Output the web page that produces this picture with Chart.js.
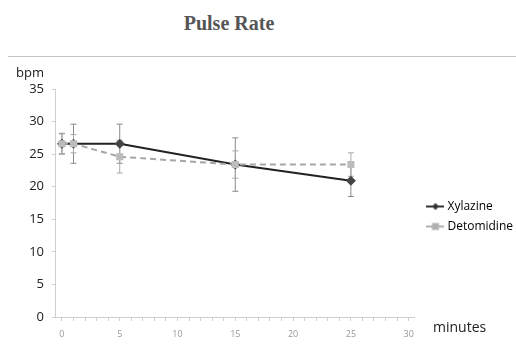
<!DOCTYPE html>
<html>
<head>
<meta charset="utf-8">
<script src="https://cdn.jsdelivr.net/npm/chart.js@4.4.1/dist/chart.umd.min.js"></script>
<style>
  html, body { margin: 0; padding: 0; background: #fff; }
  #wrap { position: relative; width: 516px; height: 344px; overflow: hidden; }
  #title {
    position: absolute; left: 0; top: 12px; width: 458px; text-align: center;
    font-family: "Liberation Serif", "DejaVu Serif", serif; font-weight: bold;
    font-size: 20px; color: #555;
  }
  #rule { position: absolute; left: 8px; top: 56px; width: 508px; height: 0; border-top: 1.5px solid #c4c4c4; }
  canvas { position: absolute; left: 0; top: 0; }
</style>
</head>
<body>
<div id="wrap">
  <div id="title">Pulse Rate</div>
  <div id="rule"></div>
  <canvas id="pulseChart" width="516" height="344"></canvas>
</div>
<script>
// time points (minutes)
var minutes = [0, 1, 5, 15, 25];

var xylazine = [26.6, 26.6, 26.6, 23.4, 20.9];
var xylazineErr = [1.6, 3.0, 3.0, 4.1, 2.4];

var detomidine = [26.6, 26.6, 24.6, 23.4, 23.4];
var detomidineErr = [1.5, 1.4, 2.5, 2.1, 1.8];

var yTicks = [0, 5, 10, 15, 20, 25, 30, 35];
var xTickLabels = [0, 5, 10, 15, 20, 25, 30];

function toPoints(vals) {
    return minutes.map(function (m, i) { return { x: m, y: vals[i] }; });
}

// little line+marker icons for the legend
function legendIcon(color, style) {
    var c = document.createElement('canvas');
    c.width = 18; c.height = 10;
    var g = c.getContext('2d');
    g.strokeStyle = color; g.lineWidth = 2;
    g.beginPath(); g.moveTo(0, 5); g.lineTo(18, 5); g.stroke();
    g.fillStyle = color;
    if (style === 'diamond') {
        g.beginPath(); g.moveTo(9, 1.5); g.lineTo(12.5, 5); g.lineTo(9, 8.5); g.lineTo(5.5, 5); g.closePath(); g.fill();
    } else {
        g.fillRect(5.5, 1.5, 7, 7);
    }
    return c;
}

var errorBars = {
    id: 'errorBars',
    beforeDatasetsDraw: function (chart) {
        var ctx = chart.ctx, xs = chart.scales.x, ys = chart.scales.y;
        chart.data.datasets.forEach(function (ds) {
            ctx.save();
            ctx.strokeStyle = ds.errColor;
            ctx.lineWidth = 1;
            ds.data.forEach(function (p, j) {
                var px = xs.getPixelForValue(p.x),
                    top = ys.getPixelForValue(p.y + ds.errors[j]),
                    bot = ys.getPixelForValue(p.y - ds.errors[j]);
                ctx.beginPath();
                ctx.moveTo(px, top); ctx.lineTo(px, bot);
                ctx.moveTo(px - 3, top); ctx.lineTo(px + 3, top);
                ctx.moveTo(px - 3, bot); ctx.lineTo(px + 3, bot);
                ctx.stroke();
            });
            ctx.restore();
        });
    }
};

// push the legend a bit to the right, like the original
var legendNudge = {
    id: 'legendNudge',
    afterLayout: function (chart) {
        if (chart.legend) {
            chart.legend.left += 7;
            chart.legend.right += 7;
        }
    }
};

var axisTexts = {
    id: 'axisTexts',
    afterDraw: function (chart) {
        var ctx = chart.ctx;
        ctx.save();
        ctx.fillStyle = '#222';
        ctx.font = '13px "Open Sans", sans-serif';
        ctx.textBaseline = 'middle';
        ctx.textAlign = 'left';
        ctx.fillText('bpm', 16, 73);
        ctx.font = '14px "Open Sans", sans-serif';
        ctx.fillText('minutes', 433, 328);
        ctx.restore();
    }
};

var ctx = document.getElementById('pulseChart').getContext('2d');

var pulseChart = new Chart(ctx, {
    type: 'line',
    data: {
        datasets: [{
            label: 'Xylazine',
            order: 1,
            data: toPoints(xylazine),
            errors: xylazineErr,
            errColor: '#8a8a8a',
            borderColor: '#222',
            borderWidth: 2,
            pointStyle: 'rectRot',
            pointRadius: 5,
            pointBackgroundColor: '#444',
            pointBorderColor: '#444',
            pointBorderWidth: 0,
            legendIcon: legendIcon('#333', 'diamond')
        }, {
            label: 'Detomidine',
            order: 0,
            data: toPoints(detomidine),
            errors: detomidineErr,
            errColor: '#a8a8a8',
            borderColor: '#a6a6a6',
            borderWidth: 2,
            borderDash: [6, 4],
            pointStyle: 'rect',
            pointRadius: 5,
            pointBackgroundColor: '#bcbcbc',
            pointBorderColor: '#bcbcbc',
            pointBorderWidth: 0,
            legendIcon: legendIcon('#b0b0b0', 'square')
        }]
    },
    options: {
        responsive: false,
        animation: false,
        layout: { padding: { left: 0, top: 89, right: 0, bottom: 0 } },
        plugins: {
            title: { display: false },
            tooltip: { enabled: false },
            legend: {
                position: 'right',
                align: 'center',
                labels: {
                    usePointStyle: true,
                    boxWidth: 18,
                    padding: 8,
                    color: '#222',
                    font: { family: '"Open Sans", sans-serif', size: 12 },
                    generateLabels: function (chart) {
                        return chart.data.datasets.map(function (ds, i) {
                            return {
                                text: ds.label,
                                pointStyle: ds.legendIcon,
                                fillStyle: ds.borderColor,
                                strokeStyle: ds.borderColor,
                                lineWidth: 0,
                                datasetIndex: i,
                                hidden: false
                            };
                        });
                    }
                }
            }
        },
        scales: {
            x: {
                type: 'linear',
                min: -0.6,
                max: 30.5,
                afterBuildTicks: function (scale) {
                    var t = [];
                    for (var v = 0; v <= 30; v++) t.push({ value: v });
                    scale.ticks = t;
                },
                afterFit: function (scale) { scale.height = 27; },
                grid: { drawOnChartArea: false, drawTicks: true, tickLength: 4, color: '#cfcfcf' },
                border: { color: '#cfcfcf' },
                ticks: {
                    autoSkip: false,
                    maxRotation: 0,
                    padding: 8,
                    color: '#999',
                    font: { family: '"Open Sans", sans-serif', size: 9 },
                    callback: function (v) { return xTickLabels.indexOf(v) >= 0 ? String(v) : ''; }
                }
            },
            y: {
                min: 0,
                max: 35,
                afterBuildTicks: function (scale) {
                    scale.ticks = yTicks.map(function (v) { return { value: v }; });
                },
                afterFit: function (scale) { scale.width = 55; },
                grid: { drawOnChartArea: false, drawTicks: true, tickLength: 3, color: '#cfcfcf' },
                border: { color: '#cfcfcf' },
                ticks: {
                    padding: 8,
                    color: '#222',
                    font: { family: '"Open Sans", sans-serif', size: 13 }
                }
            }
        }
    },
    plugins: [errorBars, legendNudge, axisTexts]
});
</script>
</body>
</html>
